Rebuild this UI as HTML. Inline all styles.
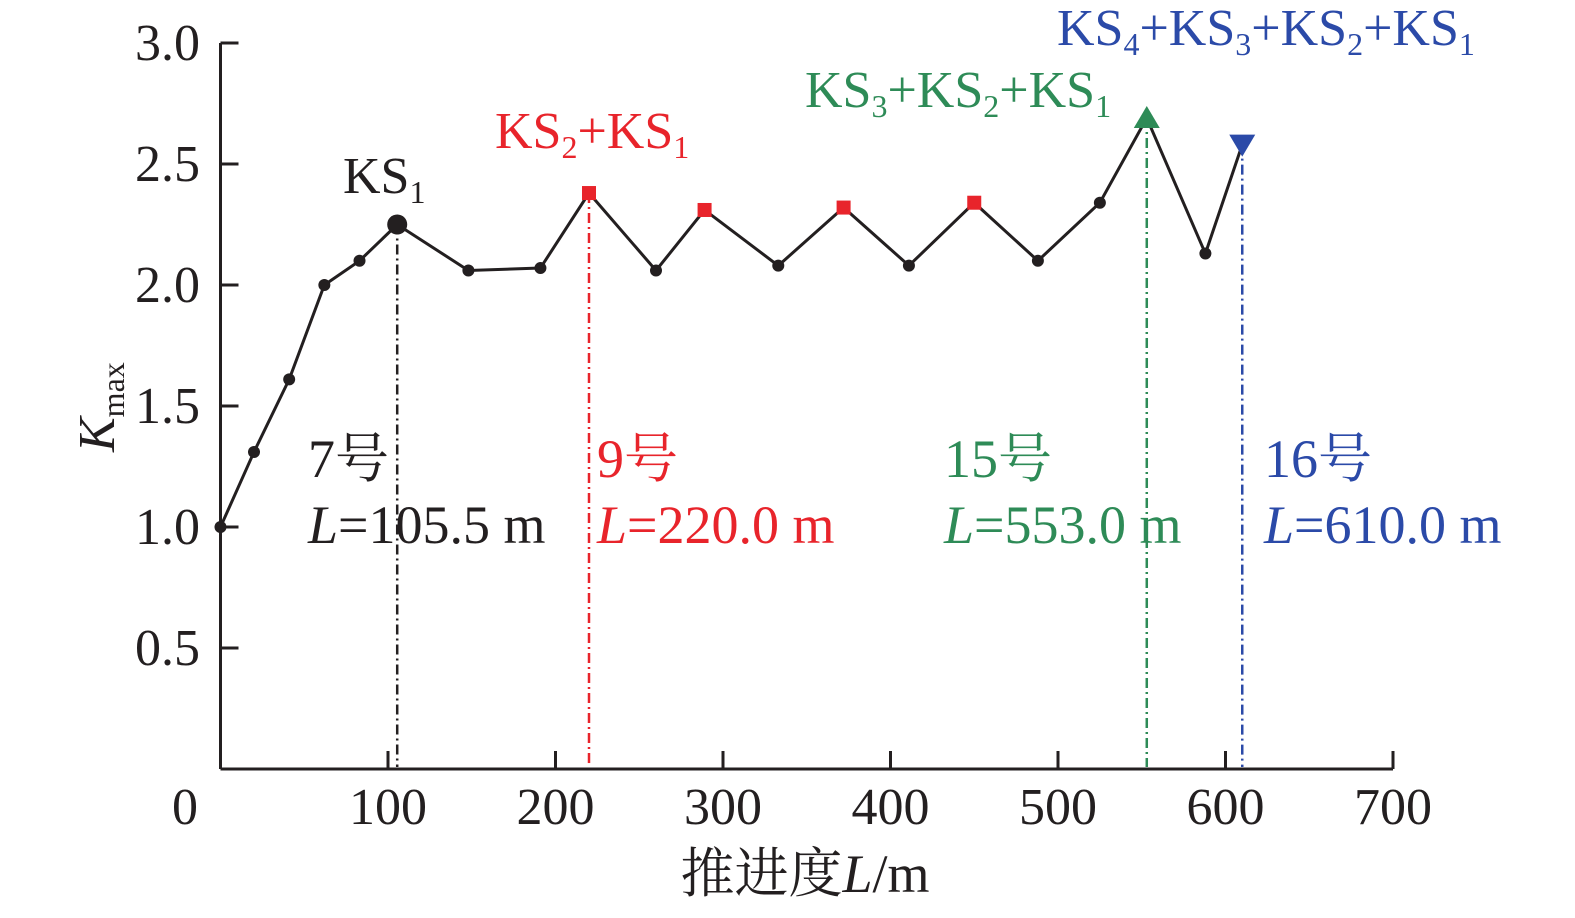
<!DOCTYPE html>
<html><head><meta charset="utf-8"><style>
html,body{margin:0;padding:0;background:#fff;}
svg text{font-family:"Liberation Serif","Noto Serif CJK SC",serif;}
</style></head><body>
<svg width="1575" height="913" viewBox="0 0 1575 913">
<g id="axes"></g>
<g id="marks"></g>
</svg>
<script>
const xs=[0,20,41,62,83,105.5,148,191,220,260,289,333,372,411,450,488,525,553,588,610];
const ys=[1.0,1.31,1.61,2.0,2.1,2.25,2.06,2.07,2.38,2.06,2.31,2.08,2.32,2.08,2.34,2.10,2.34,2.69,2.13,2.58];
const xTicks=[0,100,200,300,400,500,600,700];
const yTicks=[0.5,1.0,1.5,2.0,2.5,3.0];
const redIdx=[8,10,12,14];
const X=v=>220.5+v*1.675, Y=v=>769-v*242;
const NS="http://www.w3.org/2000/svg";
function mk(parent,tag,attrs,text){const e=document.createElementNS(NS,tag);for(const k in attrs)e.setAttribute(k,attrs[k]);if(text!==undefined)e.innerHTML=text;parent.appendChild(e);return e;}
const ax=document.getElementById('axes'), mg=document.getElementById('marks');
let e;
e=mk(ax,'line',{x1:X(0),y1:Y(0),x2:X(700),y2:Y(0),stroke:'#231f20','stroke-width':3});


e=mk(ax,'line',{x1:X(0),y1:Y(0),x2:X(0),y2:Y(3),stroke:'#231f20','stroke-width':3});


xTicks.forEach(t=>{
 if(t>0){e=mk(ax,'line',{x1:X(t),y1:Y(0),x2:X(t),y2:Y(0)-18,stroke:'#231f20','stroke-width':3});
 
 }
 e=mk(ax,'text',{x:t===0?185:X(t),y:824,'font-size':52,'text-anchor':'middle',fill:'#231f20'},String(t));
 
 
});
yTicks.forEach(t=>{
 e=mk(ax,'line',{x1:X(0),y1:Y(t),x2:X(0)+18,y2:Y(t),stroke:'#231f20','stroke-width':3});
 
 
 e=mk(ax,'text',{x:200,y:Y(t)+17,'font-size':52,'text-anchor':'end',fill:'#231f20'},t.toFixed(1));
 
 
});
e=mk(ax,'text',{x:805,y:892,'font-size':54,'text-anchor':'middle',fill:'#231f20'},'推进度<tspan font-style="italic">L</tspan>/m');


e=mk(ax,'text',{transform:'translate(114,452) rotate(-90)','font-size':52,fill:'#231f20'},'<tspan font-style="italic">K</tspan><tspan font-size="32" dy="10">max</tspan>');


const guides=[[5,'#231f20'],[8,'#e8242b'],[17,'#2e8b57'],[19,'#2b4aa8']];
guides.forEach(g=>{
 e=mk(mg,'line',{x1:X(xs[g[0]]),y1:Y(ys[g[0]]),x2:X(xs[g[0]]),y2:Y(0)-2,stroke:g[1],'stroke-width':2.5,'stroke-dasharray':'10,4,2,4'});
 
 
});
e=mk(mg,'polyline',{points:xs.map((x,i)=>X(x)+','+Y(ys[i])).join(' '),fill:'none',stroke:'#231f20','stroke-width':3});


xs.forEach((x,i)=>{
 const cx=X(x),cy=Y(ys[i]);
 if(redIdx.includes(i)){e=mk(mg,'rect',{x:cx-7,y:cy-7,width:14,height:14,fill:'#e8242b'});}
 else if(i===5){e=mk(mg,'circle',{cx,cy,r:10,fill:'#231f20'});}
 else if(i===17){e=mk(mg,'polygon',{points:`${cx},${cy-12} ${cx-13},${cy+10} ${cx+13},${cy+10}`,fill:'#2e8b57'});}
 else if(i===19){e=mk(mg,'polygon',{points:`${cx},${cy+12} ${cx-13},${cy-10} ${cx+13},${cy-10}`,fill:'#2b4aa8'});}
 else{e=mk(mg,'circle',{cx,cy,r:6,fill:'#231f20'});}
 
 
});
const S=n=>`<tspan font-size="32" dy="10">${n}</tspan><tspan dy="-10">`;
const labels=[
 [343,193,'#231f20','KS'+S(1)+'</tspan>'],
 [495,148,'#e8242b','KS'+S(2)+'+KS</tspan>'+S(1)+'</tspan>'],
 [805,107,'#2e8b57','KS'+S(3)+'+KS</tspan>'+S(2)+'+KS</tspan>'+S(1)+'</tspan>'],
 [1057,45,'#2b4aa8','KS'+S(4)+'+KS</tspan>'+S(3)+'+KS</tspan>'+S(2)+'+KS</tspan>'+S(1)+'</tspan>'],
 [308,477,'#231f20','7号'],[308,543,'#231f20','<tspan font-style="italic">L</tspan>=105.5 m'],
 [597,477,'#e8242b','9号'],[597,543,'#e8242b','<tspan font-style="italic">L</tspan>=220.0 m'],
 [944,477,'#2e8b57','15号'],[944,543,'#2e8b57','<tspan font-style="italic">L</tspan>=553.0 m'],
 [1264,477,'#2b4aa8','16号'],[1264,543,'#2b4aa8','<tspan font-style="italic">L</tspan>=610.0 m']
];
labels.forEach(l=>{
 e=mk(mg,'text',{x:l[0],y:l[1],'font-size':l[1]<200?52:54,fill:l[2]},l[3]);
 
 
});
</script>
</body></html>
